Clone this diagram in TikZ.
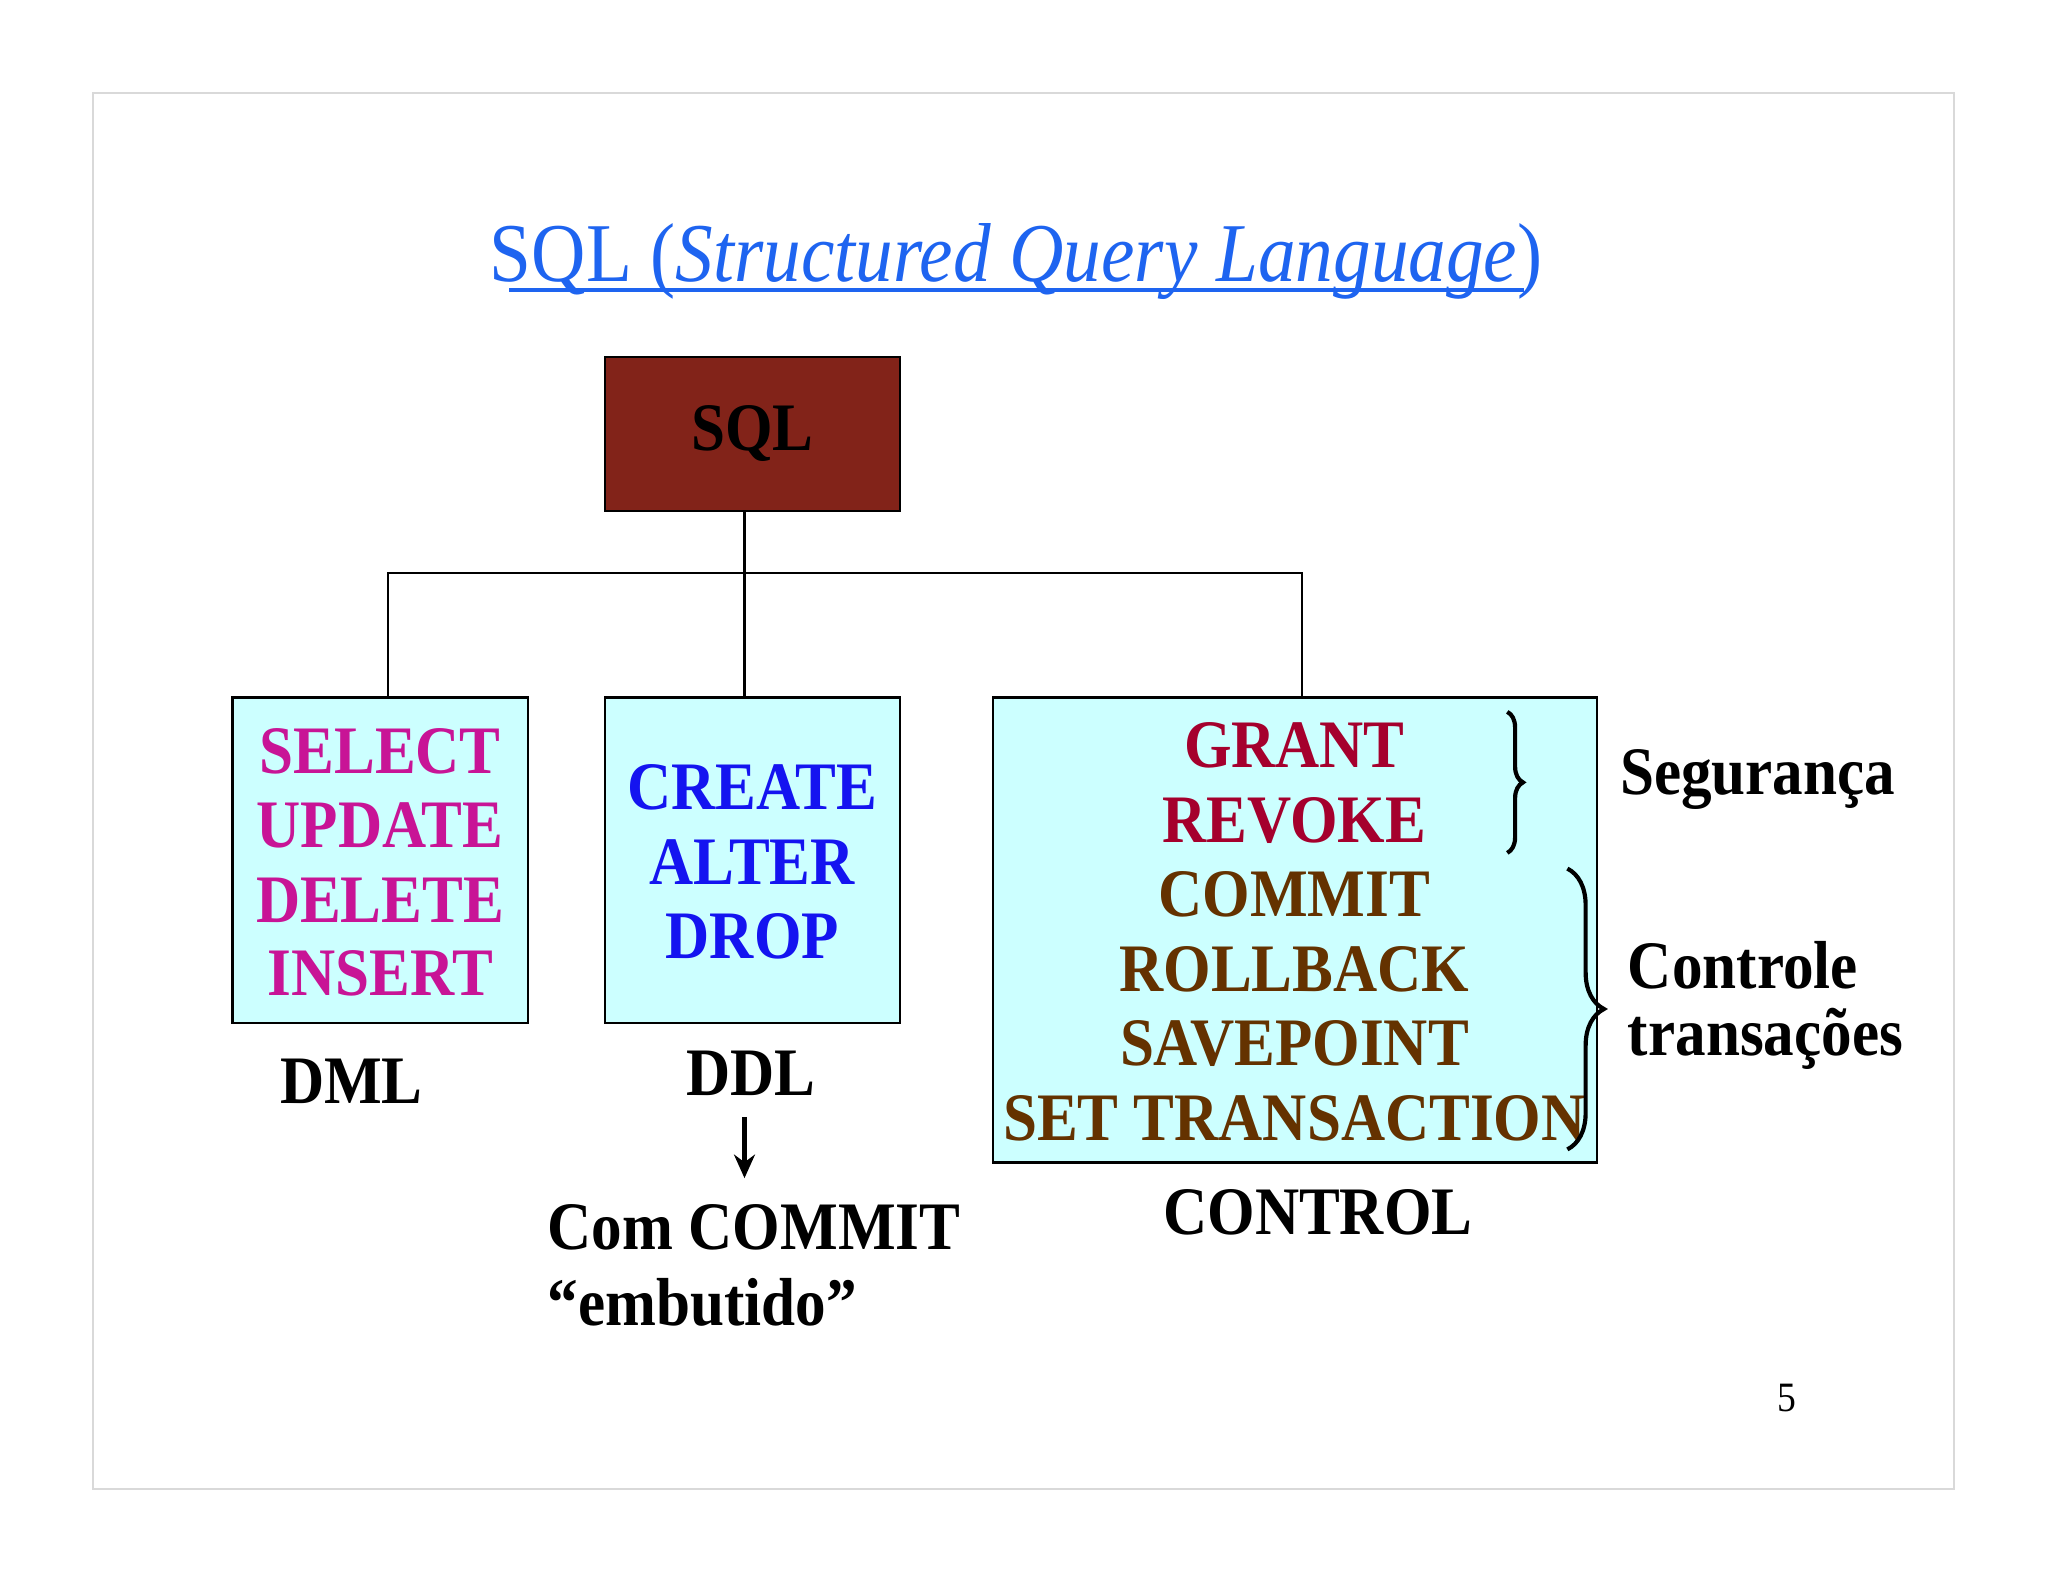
\documentclass[tikz,border=0pt]{standalone}
\usepackage{fontspec}
\setmainfont{Liberation Serif}[FakeStretch=0.9]
\usetikzlibrary{decorations.pathreplacing,arrows.meta}
\definecolor{ttl}{RGB}{30,100,240}
\definecolor{sqlred}{RGB}{130,35,25}
\definecolor{cyanbg}{RGB}{204,255,255}
\definecolor{dmlc}{RGB}{200,20,150}
\definecolor{ddlc}{RGB}{20,20,240}
\definecolor{secc}{RGB}{165,0,45}
\definecolor{trc}{RGB}{100,50,0}
\begin{document}
\begin{tikzpicture}[x=0.5pt,y=-0.5pt,
  box/.style={draw=black,line width=0.8pt,fill=cyanbg},
  kw/.style={font=\fontsize{26}{30}\selectfont\bfseries,inner sep=0pt},
  lbl/.style={font=\fontsize{26}{30}\selectfont\bfseries,inner sep=0pt,text=black},
  conn/.style={draw=black,line width=0.8pt}]
\useasboundingbox (0,0) rectangle (1568,1211);
\fill[white] (0,0) rectangle (1568,1211);
\draw[black!15,line width=0.6pt] (71,71) rectangle (1496,1140);
% title
\node[inner sep=0pt,text=ttl,font=\fontsize{32}{36}\selectfont] (title) at (778,200) {SQL (\textit{Structured Query Language})};
\draw[ttl,line width=1.2pt] (390,222) -- (1167,222);
% boxes
\node[box,fill=sqlred,minimum width=113pt,minimum height=59pt,inner sep=0pt,font=\fontsize{26}{30}\selectfont\bfseries] (sql) at (576,332) {SQL};
\path[box] (178,534) rectangle (404,783);
\path[box] (463,534) rectangle (689,783);
\path[box] (760,534) rectangle (1223,890);
\coordinate (dmltop) at (297,534);
\coordinate (ddltop) at (570,534);
\coordinate (ctltop) at (997,534);
\coordinate (sqlb) at (570,391);
\coordinate (j) at (570,439);
\draw[conn] (sqlb) -- (j) -- (ddltop);
\draw[conn] (dmltop) |- (j) -| (ctltop);
% DML
\node[kw,text=dmlc] (d1) at (291,575) {SELECT};
\node[kw,text=dmlc] (d2) at (291,632) {UPDATE};
\node[kw,text=dmlc] (d3) at (291,689) {DELETE};
\node[kw,text=dmlc] (d4) at (291,745) {INSERT};
% DDL
\node[kw,text=ddlc] (c1) at (576,603) {CREATE};
\node[kw,text=ddlc] (c2) at (576,660) {ALTER};
\node[kw,text=ddlc] (c3) at (576,717) {DROP};
% Control
\node[kw,text=secc] (g1) at (991,571) {GRANT};
\node[kw,text=secc] (g2) at (991,628) {REVOKE};
\node[kw,text=trc] (t1) at (991,685) {COMMIT};
\node[kw,text=trc] (t2) at (991,742) {ROLLBACK};
\node[kw,text=trc] (t3) at (991,799) {SAVEPOINT};
\node[kw,text=trc] (t4) at (991,856) {SET TRANSACTION};
% labels
\node[lbl] (dml) at (269,828) {DML};
\node[lbl] (ddl) at (575,822) {DDL};
\node[lbl,anchor=west] (com1) at (419,940) {Com COMMIT};
\node[lbl,anchor=west] (com2) at (419,997) {“embutido”};
\node[lbl] (ctl) at (1009,928) {CONTROL};
\node[lbl,anchor=west] (seg) at (1240,597) {Segurança};
\node[lbl,anchor=west] (con) at (1246,739) {Controle};
\node[lbl,anchor=west] (tra) at (1246,795) {transações};
\node[inner sep=0pt,font=\fontsize{16}{18}\selectfont] (pg) at (1368,1070) {5};
\coordinate (a1) at (570,855);
\coordinate (a2) at (570,902);
\draw[conn,line width=1.6pt,-{Stealth[length=9pt,width=8pt]}] (a1) -- (a2);
% braces
\coordinate (b1s) at (1154,545);
\coordinate (b1e) at (1154,653);
\coordinate (b2s) at (1200,665);
\coordinate (b2e) at (1200,880);
\draw[line width=1.6pt,decorate,decoration={brace,amplitude=6pt}] (b1s) -- (b1e);
\draw[line width=1.6pt,decorate,decoration={brace,amplitude=14pt}] (b2s) -- (b2e);
\end{tikzpicture}
\end{document}
